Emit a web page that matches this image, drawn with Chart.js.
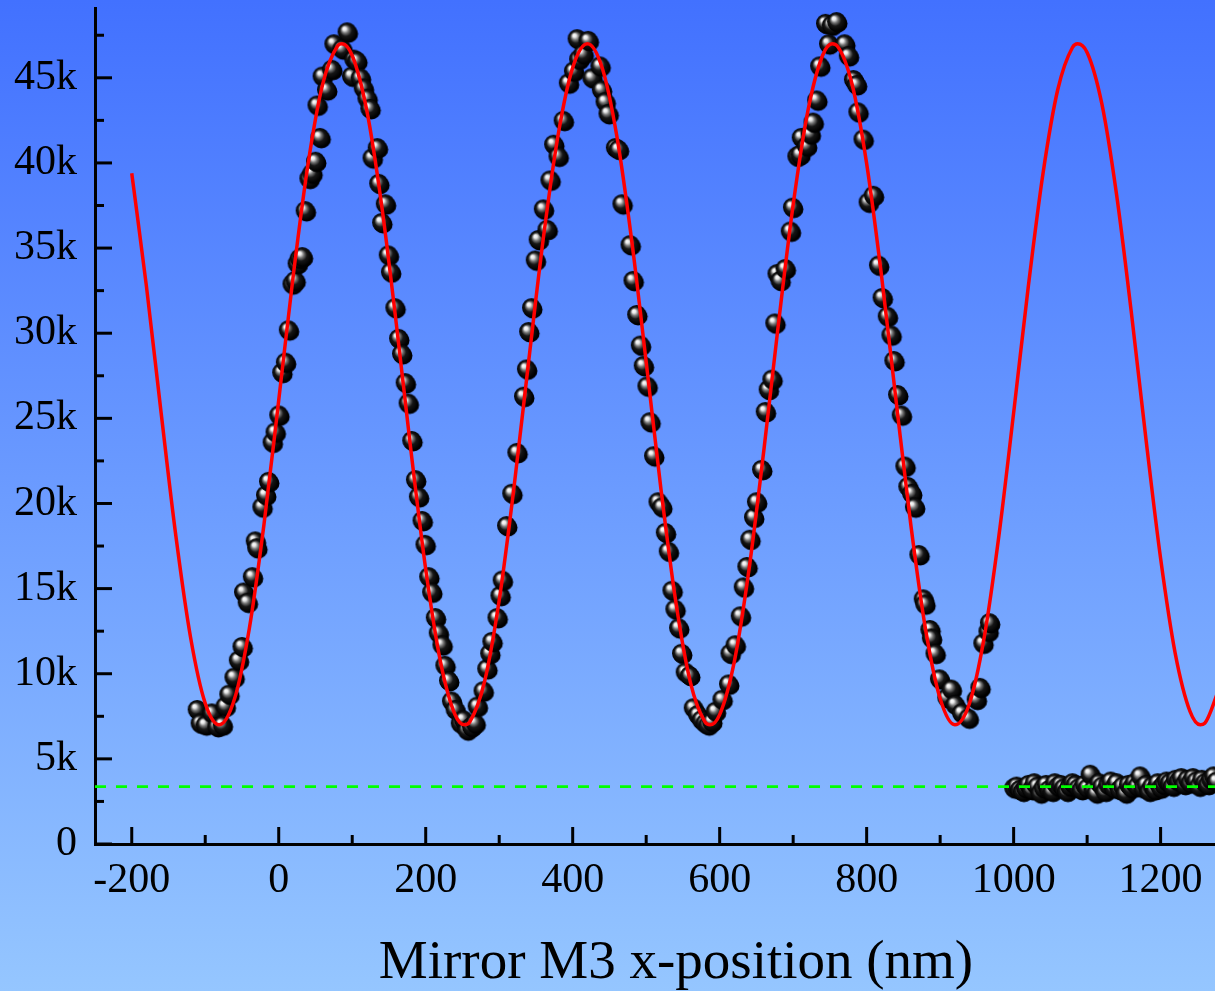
<!DOCTYPE html>
<html>
<head>
<meta charset="utf-8">
<title>Mirror M3 scan</title>
<script src="https://cdn.jsdelivr.net/npm/chart.js@4.4.0/dist/chart.umd.min.js"></script>
<style>
  html, body { margin: 0; padding: 0; }
  body {
    width: 1215px;
    height: 991px;
    overflow: hidden;
    background: linear-gradient(to bottom, #4271ff 0%, #95c6ff 100%);
  }
  #wrap { position: relative; width: 1215px; height: 991px; }
</style>
</head>
<body>
<div id="wrap"><canvas id="scanChart" width="1215" height="991"></canvas></div>
<script>
// measured counts vs mirror position (nm)
const scanX = [
  -111, -107, -100, -91, -84, -77, -73, -68, -61, -55, -50, -48, -43, -36, -32, -30,
  -23, -18, -14, -9, -5, 0, 4, 9, 13, 18, 22, 25, 28, 32, 36, 41, 45, 50, 52, 56,
  59, 65, 72, 75, 86, 93, 99, 102, 106, 111, 115, 120, 124, 127, 134, 136, 140, 145,
  149, 152, 158, 163, 167, 172, 176, 181, 186, 190, 195, 199, 204, 208, 213, 217,
  222, 226, 231, 235, 240, 247, 251, 256, 262, 267, 270, 278, 283, 287, 290, 297,
  301, 304, 310, 317, 324, 333, 337, 340, 344, 349, 353, 360, 365, 369, 374, 380,
  387, 394, 401, 406, 408, 414, 421, 426, 437, 439, 444, 448, 458, 462, 467, 478,
  482, 487, 492, 496, 501, 505, 510, 516, 521, 526, 530, 535, 539, 544, 548, 553,
  559, 564, 570, 575, 580, 584, 589, 594, 603, 612, 614, 621, 628, 632, 637, 641,
  646, 650, 657, 662, 666, 671, 675, 678, 682, 689, 696, 699, 705, 709, 711, 718,
  723, 727, 732, 736, 744, 748, 752, 759, 770, 775, 782, 786, 788, 795, 802, 809,
  816, 821, 828, 833, 837, 842, 847, 852, 856, 861, 865, 871, 877, 879, 886, 888,
  893, 899, 909, 915, 920, 929, 938, 949, 954, 958, 965, 967,
  1000, 1004, 1008, 1012, 1016, 1020, 1024, 1028, 1032, 1036, 1040, 1044, 1048, 1052,
  1056, 1060, 1064, 1068, 1072, 1076, 1080, 1084, 1088, 1092, 1096, 1100, 1104, 1108,
  1112, 1116, 1120, 1124, 1128, 1132, 1136, 1140, 1144, 1148, 1152, 1156, 1160, 1164,
  1168, 1172, 1176, 1180, 1184, 1188, 1192, 1196, 1200, 1204, 1208, 1212, 1216, 1220,
  1224, 1228, 1232, 1236, 1240, 1244, 1248, 1252, 1256, 1260, 1264, 1268, 1272, 1276
];
const scanY = [
  7900, 7100, 7000, 7700, 6900, 7000, 8100, 8800, 9800, 10800, 11600, 14800, 14200, 15700, 17800, 17400,
  19800, 20500, 21300, 23600, 24200, 25200, 27700, 28300, 30200, 32900, 33100, 34100, 34400, 34500, 37200, 39100, 39400, 40100, 43400, 41500,
  45100, 44300, 45500, 47000, 46700, 47700, 45100, 46100, 46000, 45000, 44400, 43800, 43200, 40300, 40900, 38800, 36500, 37600,
  34600, 33600, 31500, 29700, 28800, 27100, 25900, 23700, 21400, 20400, 19000, 17600, 15700, 14800, 13300, 12400,
  11700, 10500, 9600, 8400, 7900, 7100, 7300, 6700, 6900, 7100, 8100, 9000, 10300, 11200, 11900, 13300,
  14600, 15500, 18700, 20600, 23000, 26300, 27900, 30100, 31500, 34300, 35500, 37300, 36100, 39000, 41100, 40400,
  42500, 44700, 45400, 47300, 46100, 46400, 47200, 45000, 45700, 44300, 43600, 42900, 40900, 40800, 37600, 35200,
  33100, 31100, 29300, 28100, 26900, 24800, 22800, 20100, 19800, 18300, 17200, 14900, 13800, 12700, 11200, 10100,
  9900, 8000, 7600, 7300, 7100, 7000, 7200, 7800, 8500, 9400, 11200, 11700, 13400, 15100, 16300, 17900,
  19200, 20100, 22000, 25400, 26700, 27300, 30600, 33500, 33100, 33800, 36000, 37400, 40400, 40500, 41500, 41000,
  41700, 42400, 43700, 45700, 48200, 47000, 48100, 48300, 47000, 46300, 44900, 44600, 43000, 41400, 37700, 38100,
  34000, 32100, 31000, 29900, 28400, 26400, 25200, 22200, 21000, 20600, 19800, 17000, 14400, 14100, 12600, 12100,
  11200, 9700, 8600, 9100, 8200, 7700, 7400, 8500, 9200, 11800, 12500, 13000,
  3300, 3400, 3200, 3100, 3300, 3500, 3200, 3600, 3400, 3000, 3300, 3500, 3200, 3100,
  3600, 3400, 3500, 3300, 3100, 3400, 3600, 3500, 3300, 3200, 3500, 3300, 4100, 3200,
  3000, 3600, 3400, 3100, 3500, 3700, 3300, 3600, 3200, 3400, 3000, 3500, 3300, 3600,
  3400, 4000, 3300, 3500, 3100, 3400, 3200, 3600, 3300, 3500, 3700, 3600, 3400, 3800,
  3700, 3900, 3500, 3800, 3600, 3900, 3700, 3400, 3800, 3600, 3500, 3800, 4000, 3700
];

// sinusoidal fit through the fringes
const fitX = [
  -200, -180, -160, -140, -120, -100, -81, -60, -40, -20, 0, 20, 40, 60, 80, 86, 100, 120,
  140, 160, 180, 200, 220, 240, 253, 260, 280, 300, 320, 340, 360, 380, 400, 420, 440, 460,
  480, 500, 520, 540, 560, 580, 587, 600, 620, 640, 660, 680, 700, 720, 740, 753, 760, 780,
  800, 820, 840, 860, 880, 900, 920, 940, 960, 980, 1000, 1020, 1040, 1060, 1080, 1087, 1100,
  1120, 1140, 1160, 1180, 1200, 1220, 1240, 1254, 1260, 1280
];
const fitY = [
  39390, 32750, 25310, 18100, 12140, 8260, 7000, 8540, 12660, 18790, 26060, 33470, 39970, 44660, 46870, 47000, 46310, 43040,
  37530, 30550, 23070, 16140, 10730, 7590, 7000, 7170, 9530, 14320, 20900, 28320, 35560, 41600, 45600, 47000, 45600, 41590,
  35550, 28310, 20880, 14310, 9520, 7170, 7000, 7600, 10730, 16150, 23080, 30560, 37540, 43050, 46310, 47000, 46870, 44650,
  39960, 33460, 26050, 18780, 12650, 8540, 7000, 8270, 12150, 18120, 25320, 32760, 39400, 44300, 46780, 47000, 46490,
  43480, 38160, 31280, 23800, 16770, 11170, 7790, 7000, 7090, 9180
];

// background level
const baseX = [-250, 1280];
const baseY = [3370, 3370];

const xTickValues = [-200, 0, 200, 400, 600, 800, 1000, 1200];
const xTickLabels = ['-200', '0', '200', '400', '600', '800', '1000', '1200'];
const xMinorValues = [-100, 100, 300, 500, 700, 900, 1100];
const yTickValues = [0, 5000, 10000, 15000, 20000, 25000, 30000, 35000, 40000, 45000];
const yTickLabels = ['0', '5k', '10k', '15k', '20k', '25k', '30k', '35k', '40k', '45k'];
const yMinorValues = [2500, 7500, 12500, 17500, 22500, 27500, 32500, 37500, 42500, 47500];

const xTitle = 'Mirror M3 x-position (nm)';
const serif = '"Liberation Serif", "Times New Roman", serif';

// shaded ball marker
function makeBall(r) {
  const size = Math.ceil(2 * r + 6);
  const c = document.createElement('canvas');
  c.width = size;
  c.height = size;
  const g = c.getContext('2d');
  const cx = size / 2, cy = size / 2;
  g.fillStyle = '#000';
  g.beginPath();
  g.ellipse(cx + 1.5, cy + 2, r, r - 0.5, 0, 0, Math.PI * 2);
  g.fill();
  const grad = g.createRadialGradient(cx - r * 0.35, cy - r * 0.4, 0, cx, cy, r);
  grad.addColorStop(0, '#ffffff');
  grad.addColorStop(0.18, '#ececec');
  grad.addColorStop(0.38, '#777777');
  grad.addColorStop(0.62, '#161616');
  grad.addColorStop(1, '#000000');
  g.fillStyle = grad;
  g.beginPath();
  g.arc(cx, cy, r, 0, Math.PI * 2);
  g.fill();
  return c;
}
const ball = makeBall(9.5);

const toPoints = (xs, ys) => xs.map((x, i) => ({ x: x, y: ys[i] }));

// inward major/minor tick marks on both axes
const axisTicks = {
  id: 'axisTicks',
  afterDraw(chart) {
    const { ctx, chartArea: a, scales } = chart;
    const mark = (x0, y0, x1, y1) => {
      ctx.beginPath();
      ctx.moveTo(x0, y0);
      ctx.lineTo(x1, y1);
      ctx.stroke();
    };
    ctx.save();
    ctx.strokeStyle = '#000';
    ctx.lineWidth = 3;
    xTickValues.forEach(v => {
      const px = scales.x.getPixelForValue(v);
      mark(px, a.bottom, px, a.bottom - 17);
    });
    xMinorValues.forEach(v => {
      const px = scales.x.getPixelForValue(v);
      mark(px, a.bottom, px, a.bottom - 9);
    });
    yTickValues.forEach(v => {
      const py = scales.y.getPixelForValue(v);
      mark(a.left, py, a.left + 17, py);
    });
    yMinorValues.forEach(v => {
      const py = scales.y.getPixelForValue(v);
      mark(a.left, py, a.left + 9, py);
    });
    ctx.restore();
  }
};

// axis title, centred a little right of the plot centre
const axisTitle = {
  id: 'axisTitle',
  afterDraw(chart) {
    const ctx = chart.ctx;
    ctx.save();
    ctx.fillStyle = '#000';
    ctx.font = '55px ' + serif;
    ctx.textAlign = 'center';
    ctx.textBaseline = 'alphabetic';
    ctx.fillText(xTitle, 676, 978);
    ctx.restore();
  }
};

new Chart(document.getElementById('scanChart'), {
  type: 'scatter',
  data: {
    datasets: [
      {
        label: 'background',
        data: toPoints(baseX, baseY),
        showLine: true,
        borderColor: '#00ff00',
        borderWidth: 2.8,
        borderDash: [11, 10],
        pointRadius: 0
      },
      {
        label: 'fit',
        data: toPoints(fitX, fitY),
        showLine: true,
        borderColor: '#ff0000',
        borderWidth: 3.5,
        cubicInterpolationMode: 'monotone',
        pointRadius: 0
      },
      {
        label: 'counts',
        data: toPoints(scanX, scanY),
        pointStyle: ball,
        pointRadius: 10,
        pointHoverRadius: 10
      }
    ]
  },
  options: {
    responsive: false,
    animation: false,
    events: [],
    layout: { autoPadding: false, padding: { top: 8, right: 0, left: 0, bottom: 0 } },
    plugins: {
      legend: { display: false },
      tooltip: { enabled: false }
    },
    scales: {
      x: {
        type: 'linear',
        min: -250,
        max: 1274,
        grid: { display: false, drawTicks: false },
        border: { display: true, color: '#000', width: 3 },
        afterBuildTicks: scale => { scale.ticks = xTickValues.map(v => ({ value: v })); },
        afterFit: scale => {
          scale.height = 147;
          scale.paddingLeft = 0;
          scale.paddingRight = 0;
        },
        ticks: {
          padding: 12,
          maxRotation: 0,
          autoSkip: false,
          color: '#000',
          font: { family: serif, size: 42 },
          callback: v => xTickLabels[xTickValues.indexOf(v)]
        }
      },
      y: {
        type: 'linear',
        min: 0,
        max: 49100,
        grid: { display: false, drawTicks: false },
        border: { display: true, color: '#000', width: 3 },
        afterBuildTicks: scale => { scale.ticks = yTickValues.map(v => ({ value: v })); },
        afterFit: scale => {
          scale.width = 95;
          scale.paddingTop = 0;
          scale.paddingBottom = 0;
        },
        ticks: {
          padding: 18,
          autoSkip: false,
          color: '#000',
          font: { family: serif, size: 42 },
          callback: v => yTickLabels[yTickValues.indexOf(v)]
        }
      }
    }
  },
  plugins: [axisTicks, axisTitle]
});
</script>
</body>
</html>
